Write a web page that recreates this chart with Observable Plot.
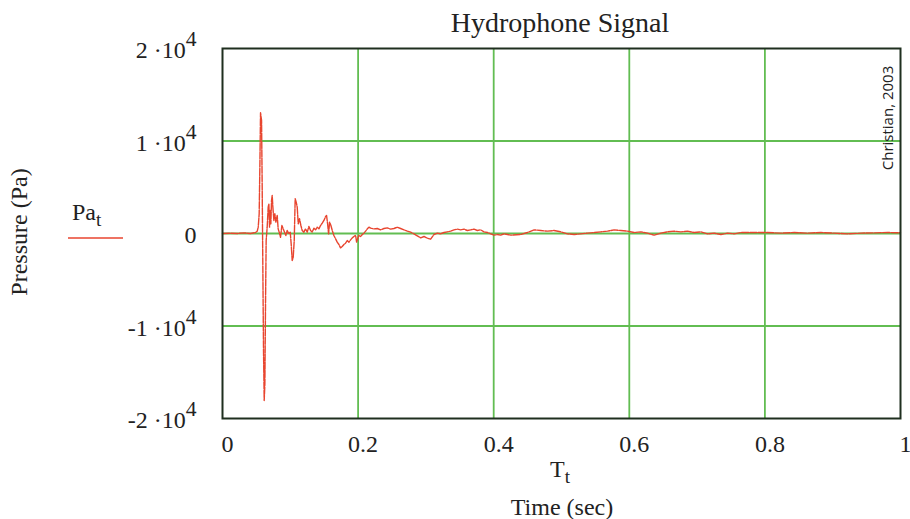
<!DOCTYPE html>
<html><head><meta charset="utf-8">
<script src="https://cdn.jsdelivr.net/npm/d3@7"></script>
<script src="https://cdn.jsdelivr.net/npm/@observablehq/plot@0.6"></script>
<style>body{margin:0;background:#fff;overflow:hidden}</style>
</head><body><div id="chart"></div>
<script>
const time = [0,0.0118,0.0216,0.0315,0.0413,0.0487,0.0512,0.0527,0.0541,0.0551,0.0561,0.0576,0.0585,0.0595,0.0605,0.0615,0.0625,0.0635,0.0644,0.0659,0.0674,0.0684,0.0694,0.0704,0.0713,0.0723,0.0733,0.0743,0.0758,0.0772,0.0787,0.0807,0.0821,0.0836,0.0856,0.0876,0.0895,0.0915,0.0935,0.0954,0.0979,0.0999,0.1013,0.1028,0.1043,0.1058,0.1072,0.1087,0.1102,0.1117,0.1136,0.1156,0.1176,0.1200,0.1225,0.1250,0.1274,0.1299,0.1323,0.1348,0.1373,0.1397,0.1422,0.1446,0.1471,0.1496,0.1520,0.1535,0.1550,0.1565,0.1579,0.1599,0.1619,0.1643,0.1668,0.1692,0.1717,0.1741,0.1766,0.1791,0.1815,0.1840,0.1865,0.1889,0.1914,0.1938,0.1963,0.1978,0.1993,0.2012,0.2037,0.2062,0.2086,0.2111,0.2136,0.2160,0.2185,0.2234,0.2283,0.2332,0.2381,0.2431,0.2480,0.2529,0.2578,0.2627,0.2677,0.2726,0.2775,0.2824,0.2873,0.2923,0.2972,0.3021,0.3070,0.3119,0.3169,0.3218,0.3267,0.3316,0.3365,0.3414,0.3464,0.3513,0.3562,0.3611,0.3661,0.3710,0.3759,0.3808,0.3857,0.3907,0.3956,0.4005,0.4054,0.4103,0.4153,0.4251,0.4399,0.4497,0.4596,0.4694,0.4793,0.4890,0.4989,0.5088,0.5186,0.5284,0.5383,0.5481,0.5579,0.5678,0.5776,0.5875,0.5973,0.6071,0.6170,0.6268,0.6366,0.6465,0.6563,0.6662,0.6760,0.6859,0.6957,0.7055,0.7154,0.7252,0.7351,0.7449,0.7547,0.7646,0.7843,0.8040,0.8236,0.8433,0.8630,0.8827,0.9023,0.9220,0.9417,0.9613,0.9811,1.0];
const pressure = [0,36,0,72,0,108,250,685,2130,7170,13050,12220,5370,-3640,-12650,-18060,-16250,-7240,-760,685,2850,3210,685,2490,1050,3570,4110,2850,1410,2130,1230,1950,505,144,-400,865,505,144,-216,324,-36,144,-1120,-2920,-2560,-760,3750,3390,2850,1050,1590,865,324,144,505,144,757,324,144,577,396,685,505,865,1120,1410,1840,1950,1050,-36,1230,865,324,-216,-577,-937,-1190,-1550,-1410,-1190,-1050,-757,-937,-685,-470,-324,-180,-937,-577,-216,-324,-108,36,252,505,685,577,505,540,396,540,613,469,540,685,540,396,252,144,-36,-252,-469,-324,-505,-613,-108,36,-36,108,180,252,396,469,396,469,324,396,469,324,396,180,108,-36,-180,-108,-180,-36,-180,-108,108,396,324,252,324,180,-36,-108,-36,36,108,180,252,396,324,252,108,180,36,-180,36,180,252,180,252,108,180,-36,36,-108,36,-36,108,108,108,36,108,36,108,36,-36,36,72,108,72];
const xTicks = [0, 0.2, 0.4, 0.6, 0.8, 1];
const yTicks = [-20000, -10000, 0, 10000, 20000];
const yTickMantissa = ["-2 \u00b710", "-1 \u00b710", "0", "1 \u00b710", "2 \u00b710"];
const yTickExponent = ["4", "4", "", "4", "4"];

const data = time.map((t, i) => ({t, p: pressure[i]}));
const serif = "'Liberation Serif', 'Times New Roman', serif";
const green = "#62bd52";

const chart = Plot.plot({
  width: 910, height: 519,
  marginLeft: 222, marginRight: 10, marginTop: 48, marginBottom: 101,
  style: {fontFamily: serif, fontSize: "24px", background: "#fff", color: "#222"},
  x: {domain: [0, 1]},
  y: {domain: [-20000, 20000]},
  marks: [
    Plot.gridX(xTicks.slice(1, -1), {stroke: green, strokeOpacity: 1, strokeWidth: 1.8}),
    Plot.gridY([-10000, 0, 10000], {stroke: green, strokeOpacity: 1, strokeWidth: 1.8}),
    Plot.line(data, {x: "t", y: "p", stroke: "#e8452f", strokeWidth: 1.4, strokeDasharray: "7,1.3"}),
    Plot.frame({stroke: "#1f2f1f", strokeWidth: 2}),
    Plot.axisX({ticks: xTicks, tickSize: 0, tickPadding: 16, label: null, fontSize: 24, dx: 5,
      tickFormat: d => String(d)}),
    Plot.axisY({ticks: yTicks, tickSize: 0, tickPadding: 26, label: null, fontSize: 24, dy: 2,
      tickFormat: d => yTickMantissa[yTicks.indexOf(d)]})
  ]
});
document.getElementById("chart").appendChild(chart);

const svg = d3.select(chart);
// superscripts on y tick labels
svg.selectAll('g[aria-label="y-axis tick label"] text').each(function() {
  const el = d3.select(this);
  const txt = el.text();
  const i = yTickMantissa.indexOf(txt);
  if (i >= 0 && yTickExponent[i]) {
    el.append("tspan").attr("dy", "-0.55em").attr("font-size", "0.9em").text(yTickExponent[i]);
  }
});

function addText(x, y, opts) {
  const t = svg.append("text").attr("x", x).attr("y", y)
    .attr("text-anchor", opts.anchor || "middle")
    .attr("font-family", opts.family || serif)
    .attr("font-size", opts.size || 24).attr("fill", "#222");
  if (opts.rotate) t.attr("transform", `rotate(${opts.rotate},${x},${y})`);
  t.append("tspan").text(opts.text);
  if (opts.sub) t.append("tspan").attr("dy", "0.3em").attr("font-size", "0.8em").text(opts.sub);
  return t;
}
addText(560, 32, {text: "Hydrophone Signal", size: 28});
addText(560, 477, {text: "T", sub: "t", size: 24});
addText(562, 515, {text: "Time (sec)", size: 24});
addText(27, 232, {text: "Pressure (Pa)", size: 24, rotate: -90});
addText(72, 220, {text: "Pa", sub: "t", size: 24, anchor: "start"});
addText(893, 118, {text: "Christian, 2003", size: 15, rotate: -90, family: "'Open Sans', 'Liberation Sans', sans-serif"});
svg.append("line").attr("x1", 68).attr("x2", 123).attr("y1", 238).attr("y2", 238)
  .attr("stroke", "#e8452f").attr("stroke-width", 1.5);
</script>
</body></html>
